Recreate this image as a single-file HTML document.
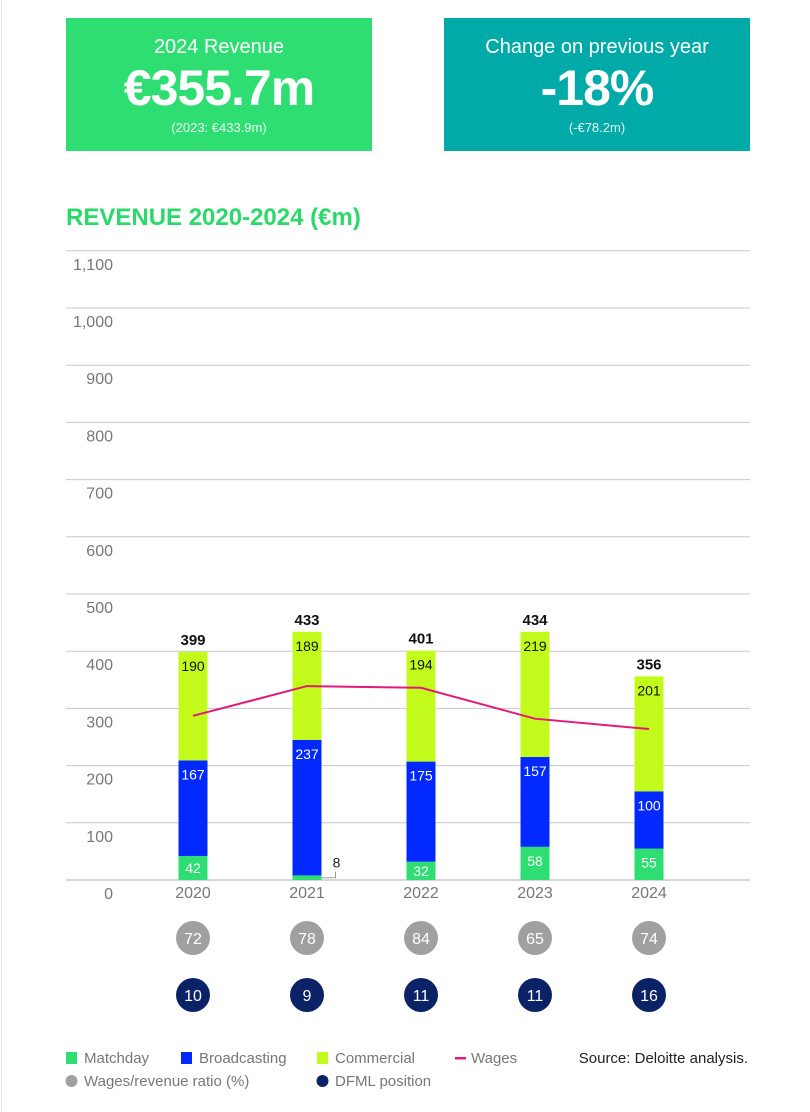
<!DOCTYPE html>
<html><head><meta charset="utf-8"><style>
body{margin:0;width:810px;height:1112px;background:#fff;font-family:"Liberation Sans",sans-serif;position:relative;overflow:hidden}
.kpi{position:absolute;top:18px;height:133px;width:306px;color:#fff;text-align:center}
.kpi .t{font-size:20px;margin-top:18px;font-weight:300}
.kpi .v{font-size:50px;font-weight:bold;margin-top:0px;letter-spacing:-1px;line-height:58px}
.kpi .s{font-size:13px;margin-top:3px;opacity:.9}
#title{position:absolute;left:66px;top:204px;font-size:24px;font-weight:bold;color:#2bd96b}
#leftline{position:absolute;left:1px;top:0;width:1px;height:1112px;background:#e6e6e6}
</style></head><body>
<div id="leftline"></div>
<div class="kpi" style="left:66px;background:#2ede72">
<div class="t">2024 Revenue</div><div class="v">€355.7m</div><div class="s">(2023: €433.9m)</div></div>
<div class="kpi" style="left:444px;background:#00aaa8">
<div class="t">Change on previous year</div><div class="v">-18%</div><div class="s">(-€78.2m)</div></div>
<div id="title">REVENUE 2020-2024 (€m)</div>
<svg id="chart" width="810" height="1112" style="position:absolute;left:0;top:0"></svg>
<script>
const years=["2020","2021","2022","2023","2024"];
const matchday=[42,8,32,58,55];
const broadcasting=[167,237,175,157,100];
const commercial=[190,189,194,219,201];
const totals=[399,433,401,434,356];
const wages=[287,339,336,282,264];
const ratio=[72,78,84,65,74];
const dfml=[10,9,11,11,16];
const ticks=[0,100,200,300,400,500,600,700,800,900,1000,1100];
const tickLabels=["0","100","200","300","400","500","600","700","800","900","1,000","1,100"];

const svg=document.getElementById('chart');
const NS="http://www.w3.org/2000/svg";
const y=v=>880-v*0.572;
const x=i=>193+i*114;
const BW=29;
function mk(tag,attrs,text){const e=document.createElementNS(NS,tag);for(const k in attrs)e.setAttribute(k,attrs[k]);if(text!=null)e.textContent=text;svg.appendChild(e);return e;}
ticks.forEach((t,i)=>{
 if(t>0){const l=mk('line',{x1:66,x2:750,y1:y(t),y2:y(t),stroke:'#c8c8c8','stroke-width':1});
 
 }
 const tx=mk('text',{x:113,y:y(t)+19,'text-anchor':'end','font-size':16,fill:'#777'},tickLabels[i]);
 
 
});
const base=mk('line',{x1:66,x2:750,y1:880,y2:880,stroke:'#c8c8c8','stroke-width':1.5});


years.forEach((yr,i)=>{
 const cx=x(i);
 const segs=[[matchday[i],'#2ede72','#fff','bar-matchday'],[broadcasting[i],'#0028ff','#fff','bar-broadcasting'],[commercial[i],'#c2fb1b','#111','bar-commercial']];
 let acc=0;
 segs.forEach(([v,c,tc,nm])=>{
  const r=mk('rect',{x:cx-BW/2,y:y(acc+v),width:BW,height:v*0.572,fill:c});
  
  
  if(v>=20){const t=mk('text',{x:cx,y:y(acc+v)+(nm==='bar-matchday'?Math.min(v*0.572/2+5,19):19),'text-anchor':'middle','font-size':14,fill:tc},v);
  
  }
  else{const p=mk('polyline',{points:`${cx+BW/2},${y(v/2)} ${cx+BW/2+14},${y(v/2)} ${cx+BW/2+14},${y(v/2)-6}`,fill:'none',stroke:'#999'});
  
  
  const t=mk('text',{x:cx+BW/2+15,y:y(v/2)-10,'text-anchor':'middle','font-size':14,fill:'#222'},v);
  
  }
  acc+=v;
 });
 const tt=mk('text',{x:cx,y:y(acc)-7,'text-anchor':'middle','font-size':15,'font-weight':'bold',fill:'#111'},totals[i]);
 
 
 const xl=mk('text',{x:cx,y:898,'text-anchor':'middle','font-size':16,fill:'#777'},yr);
 
 
 const c1=mk('circle',{cx:cx,cy:938,r:17,fill:'#a0a0a0'});
 
 
 const t1=mk('text',{x:cx,y:944,'text-anchor':'middle','font-size':16,fill:'#fff'},ratio[i]);
 
 
 const c2=mk('circle',{cx:cx,cy:995,r:17,fill:'#0c2267'});
 
 
 const t2=mk('text',{x:cx,y:1001,'text-anchor':'middle','font-size':16,fill:'#fff'},dfml[i]);
 
 
});
const wl=mk('polyline',{points:wages.map((w,i)=>x(i)+','+y(w)).join(' '),fill:'none',stroke:'#e0197a','stroke-width':2});


// legend
const L=[[66,1058,'rect','#2ede72','Matchday','legend-matchday'],[181,1058,'rect','#0028ff','Broadcasting','legend-broadcasting'],[317,1058,'rect','#c2fb1b','Commercial','legend-commercial'],[453,1058,'line','#e0197a','Wages','legend-wages'],[66,1081,'circ','#a0a0a0','Wages/revenue ratio (%)','legend-ratio'],[317,1081,'circ','#0c2267','DFML position','legend-dfml']];
L.forEach(([lx,ly,k,c,txt,nm])=>{
 const g=document.createElementNS(NS,'g');svg.appendChild(g);
 
 
 let s;
 if(k==='rect'){s=document.createElementNS(NS,'rect');s.setAttribute('x',lx);s.setAttribute('y',ly-6);s.setAttribute('width',11);s.setAttribute('height',12);}
 else if(k==='line'){s=document.createElementNS(NS,'rect');s.setAttribute('x',lx+2);s.setAttribute('y',ly-1);s.setAttribute('width',11);s.setAttribute('height',2.5);}
 else{s=document.createElementNS(NS,'circle');s.setAttribute('cx',lx+5.5);s.setAttribute('cy',ly);s.setAttribute('r',6);}
 s.setAttribute('fill',c);g.appendChild(s);
 const t=document.createElementNS(NS,'text');t.setAttribute('x',lx+18);t.setAttribute('y',ly+5);t.setAttribute('font-size',15);t.setAttribute('fill','#777');t.textContent=txt;g.appendChild(t);
});
const src=mk('text',{x:748,y:1063,'text-anchor':'end','font-size':15,fill:'#222'},'Source: Deloitte analysis.');


</script>
</body></html>
